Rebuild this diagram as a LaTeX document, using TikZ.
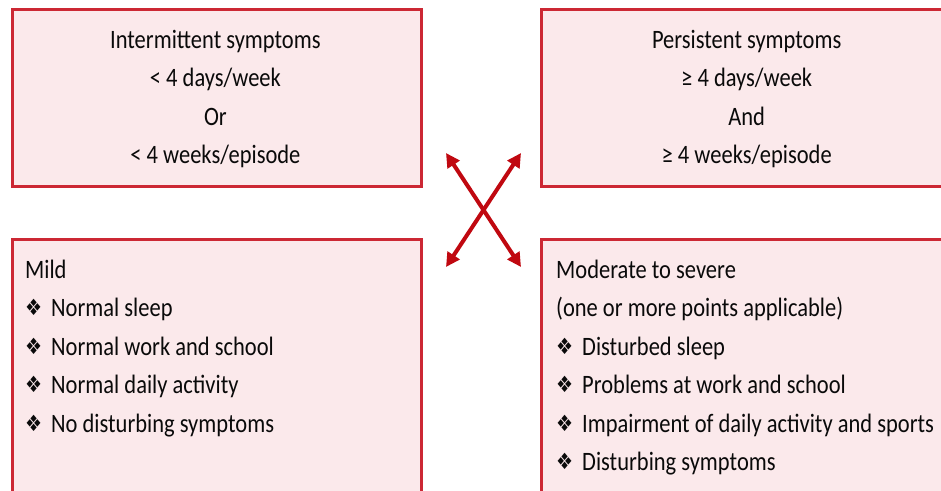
\documentclass[tikz,border=0pt]{standalone}
\usepackage{graphicx}
\usepackage{fontspec}
\setmainfont{Carlito}
\newfontfamily\symfont{DejaVu Sans}
\usetikzlibrary{arrows.meta}

\definecolor{framered}{RGB}{204,40,52}
\definecolor{framefill}{RGB}{251,233,235}
\definecolor{arrowred}{RGB}{192,8,16}
\definecolor{inktext}{RGB}{10,10,10}

% four-diamond bullet followed by a fixed gap
\newcommand\diabullet{\makebox[26pt][l]{\raisebox{0.5pt}{\symfont\fontsize{19}{19}\selectfont\char"2756}}}
% a block of lines in the slightly tall body lettering: width, alignment, lines
\newcommand\tallblock[3]{\scalebox{1}[1.18]{\parbox[t]{#1}{#2\fontsize{22.5}{32.63}\selectfont #3}}}

\tikzset{
  frame/.style={rectangle, draw=framered, fill=framefill, line width=3pt,
    inner sep=0pt, anchor=north west},
  headtext/.style={text=inktext, inner sep=0pt, anchor=base},
  listtext/.style={text=inktext, inner sep=0pt, anchor=base west},
  xarrow/.style={draw=arrowred, line width=4pt,
    {Triangle[length=14pt,width=14pt]}-{Triangle[length=14pt,width=14pt]}}
}

\begin{document}
\begin{tikzpicture}[x=1pt,y=-1pt]
  \useasboundingbox (0,0) rectangle (941,490);
  \clip (0,0) rectangle (941,490);

  % frames
  \node[frame, minimum width=409pt, minimum height=177pt] (intermit) at (10.8,8.3) {};
  \node[frame, minimum width=413pt, minimum height=177pt] (persist) at (540,8.3) {};
  \node[frame, minimum width=409pt, minimum height=300pt] (mild) at (10.8,238) {};
  \node[frame, minimum width=413pt, minimum height=300pt] (severe) at (540,238) {};

  % duration criteria
  \node[headtext] (intermittxt) at (215.4,48.3)
    {\tallblock{400pt}{\centering}{Intermittent symptoms\\ < 4 days/week\\ Or\\ < 4 weeks/episode}};
  \node[headtext] (persisttxt) at (746.7,48.3)
    {\tallblock{400pt}{\centering}{Persistent symptoms\\ ≥ 4 days/week\\ And\\ ≥ 4 weeks/episode}};

  % severity criteria
  \node[listtext] (mildtxt) at (25,278)
    {\tallblock{390pt}{\raggedright}{Mild\\
     \diabullet Normal sleep\\
     \diabullet Normal work and school\\
     \diabullet Normal daily activity\\
     \diabullet No disturbing symptoms}};
  \node[listtext] (severetxt) at (556,278)
    {\tallblock{390pt}{\raggedright}{Moderate to severe\\
     (one or more points applicable)\\
     \diabullet Disturbed sleep\\
     \diabullet Problems at work and school\\
     \diabullet Impairment of daily activity and sports\\
     \diabullet Disturbing symptoms}};

  % crossing double arrows
  \coordinate (nw) at (446,153);
  \coordinate (ne) at (521,153);
  \coordinate (sw) at (446,267);
  \coordinate (se) at (521,267);
  \draw[xarrow] (nw) -- (se);
  \draw[xarrow] (ne) -- (sw);
\end{tikzpicture}
\end{document}
